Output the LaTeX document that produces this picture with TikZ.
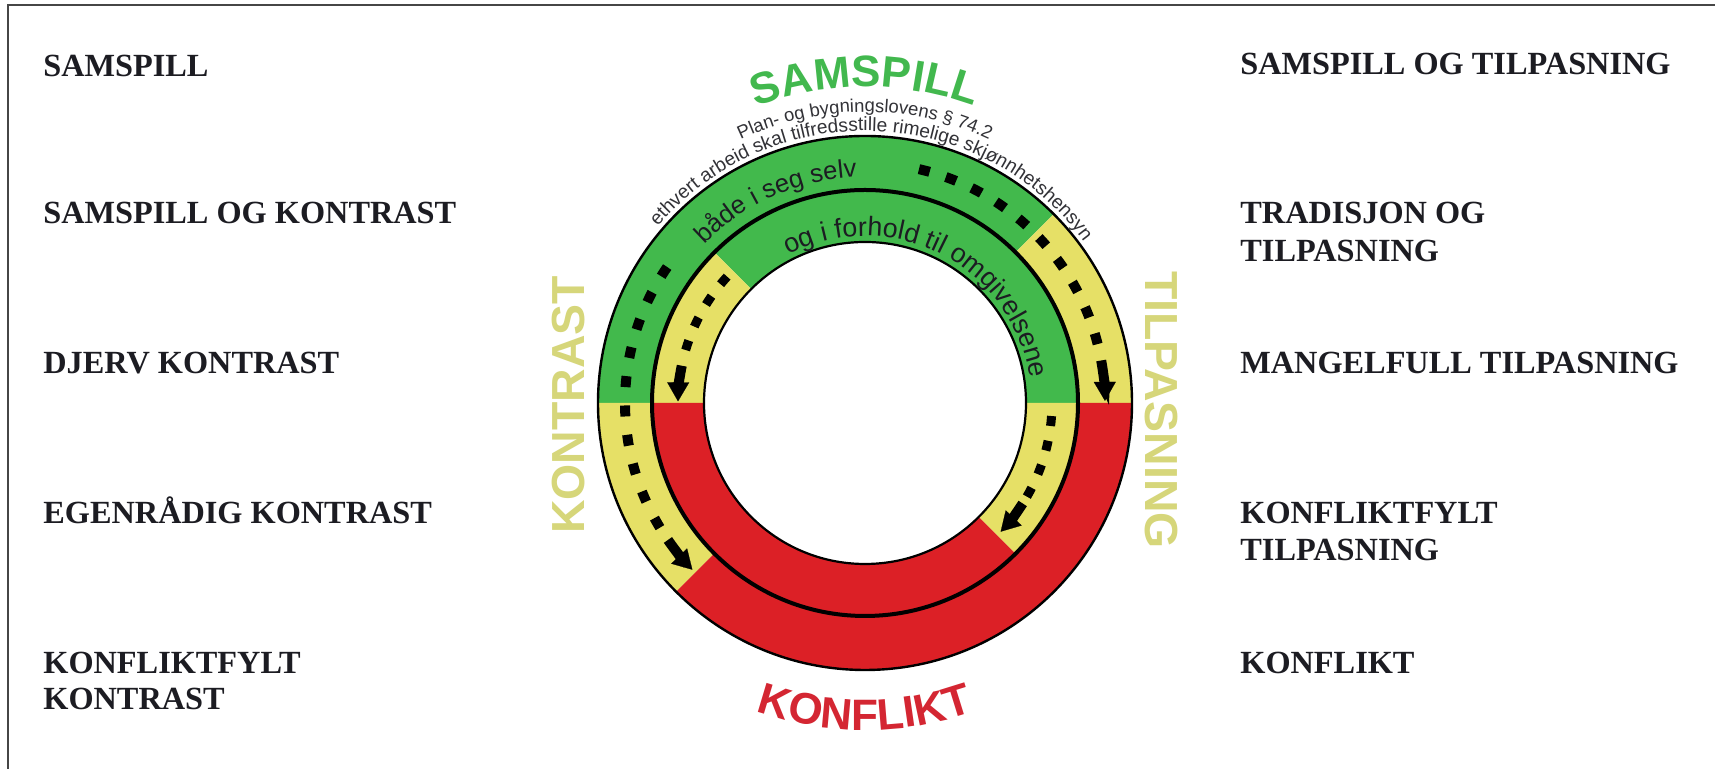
\documentclass[tikz,border=0pt]{standalone}
\usepackage{fontspec}
\setmainfont{Liberation Serif}
\setsansfont{Liberation Sans}
\usetikzlibrary{arrows.meta,decorations.text}

\definecolor{rgreen}{RGB}{66,185,76}
\definecolor{ryellow}{RGB}{230,224,102}
\definecolor{rred}{RGB}{220,32,38}
\definecolor{lblyellow}{RGB}{214,214,122}
\definecolor{lblgreen}{RGB}{66,184,78}
\definecolor{lblred}{RGB}{212,38,50}
\definecolor{txtdark}{RGB}{28,28,34}
\definecolor{smalltxt}{RGB}{50,50,55}
\definecolor{framegray}{RGB}{70,70,70}

\newcommand\ringsector[5]{\fill[#1] (#2:#4) arc[start angle=#2,end angle=#3,radius=#4] -- (#3:#5) arc[start angle=#3,end angle=#2,radius=#5] -- cycle;}

\begin{document}
\begin{tikzpicture}[x=0.5pt,y=0.5pt,
  sidelabel/.style={anchor=base west, inner sep=0pt, font=\fontsize{16.15pt}{18.5pt}\selectfont\bfseries, text=txtdark},
  biglabel/.style={inner sep=0pt, font=\fontsize{23.2pt}{23.2pt}\selectfont\sffamily\bfseries, text=lblyellow},
  outerdots/.style={line width=5pt, dash pattern=on 5.5pt off 8.5pt, black},
  innerdots/.style={line width=4.5pt, dash pattern=on 5pt off 7.5pt, black},
  arrowpart/.style={line width=5pt, black, -{Triangle[width=11pt,length=9.5pt,line width=0.1pt]}},
  ]
\useasboundingbox (0,0) rectangle (1715,769);
\fill[white] (0,0) rectangle (1715,769);
\draw[framegray, line width=0.8pt] (8,-5) -- (8,764) -- (1720,764);

% left labels
\node[sidelabel] (l1) at (43,692) {SAMSPILL};
\node[sidelabel] (l2) at (43,545) {SAMSPILL OG KONTRAST};
\node[sidelabel] (l3) at (43,395) {DJERV KONTRAST};
\node[sidelabel] (l4) at (43,245) {EGENRÅDIG KONTRAST};
\node[sidelabel] (l5a) at (43,95) {KONFLIKTFYLT};
\node[sidelabel] (l5b) at (43,59) {KONTRAST};

% right labels
\node[sidelabel] (r1) at (1240,694) {SAMSPILL OG TILPASNING};
\node[sidelabel] (r2a) at (1240,545) {TRADISJON OG};
\node[sidelabel] (r2b) at (1240,507) {TILPASNING};
\node[sidelabel] (r3) at (1240,395) {MANGELFULL TILPASNING};
\node[sidelabel] (r4a) at (1240,245) {KONFLIKTFYLT};
\node[sidelabel] (r4b) at (1240,208) {TILPASNING};
\node[sidelabel] (r5) at (1240,95) {KONFLIKT};

% side ring labels
\node[biglabel, rotate=90] (kontrast) at (569,364) {KONTRAST};
\node[biglabel, rotate=-90] (tilpasning) at (1161,359) {TILPASNING};

\begin{scope}[shift={(865,366)}]
  \coordinate (C) at (0,0);
  % outer band
  \ringsector{rgreen}{45}{180}{267}{213}
  \ringsector{ryellow}{0}{45}{267}{213}
  \ringsector{ryellow}{180}{225}{267}{213}
  \ringsector{rred}{225}{360}{267}{213}
  % inner band
  \ringsector{rgreen}{0}{135}{213}{161}
  \ringsector{ryellow}{135}{180}{213}{161}
  \ringsector{rred}{180}{315}{213}{161}
  \ringsector{ryellow}{315}{360}{213}{161}
  % outlines
  \draw[black, line width=1.2pt] (C) circle[radius=267];
  \draw[black, line width=2pt] (C) circle[radius=213];
  \draw[black, line width=1.1pt] (C) circle[radius=161];

  % dotted arrows
  \draw[outerdots] (77:240) arc[start angle=77,end angle=14.2,radius=240];
  \draw[arrowpart] (10.2:240) arc[start angle=10.2,end angle=0.5,radius=240];
  \draw[outerdots, dash pattern=on 5.5pt off 9.2pt] (145.5:240) arc[start angle=145.5,end angle=211.4,radius=240];
  \draw[arrowpart] (214.8:240) arc[start angle=214.8,end angle=224,radius=240];
  \draw[innerdots] (137.5:187) arc[start angle=137.5,end angle=163.6,radius=187];
  \draw[arrowpart] (168.5:187) arc[start angle=168.5,end angle=179.5,radius=187];
  \draw[innerdots] (-4:187) arc[start angle=-4,end angle=-30.1,radius=187];
  \draw[arrowpart] (-32.5:187) arc[start angle=-32.5,end angle=-43.5,radius=187];

  % curved texts
  \path[decorate, decoration={text along path, text align=center, text color=lblgreen,
      text={|\fontsize{22pt}{22pt}\selectfont\sffamily\bfseries|SAMSPILL}}]
    (150:316) arc[start angle=150,end angle=30,radius=316];
  \path[decorate, decoration={text along path, text align=center, text color=lblred,
      text={|\fontsize{22pt}{22pt}\selectfont\sffamily\bfseries|KONFLIKT}}]
    (210:327) arc[start angle=210,end angle=330,radius=327];
  \path[decorate, decoration={text along path, text align=center, text color=smalltxt,
      text={|\fontsize{9.2pt}{9.2pt}\selectfont\sffamily|Plan- og bygningslovens § 74.2}}]
    (160:291) arc[start angle=160,end angle=20,radius=291];
  \path[decorate, decoration={text along path, text align=center, text color=smalltxt,
      text={|\fontsize{9.6pt}{9.6pt}\selectfont\sffamily|ethvert arbeid skal tilfredsstille rimelige skjønnhetshensyn}}]
    (168:272) arc[start angle=168,end angle=8,radius=272];
  \path[decorate, decoration={text along path, text align=center, text color=txtdark,
      text={|\fontsize{12.8pt}{12.8pt}\selectfont\sffamily|både i seg selv}}]
    (173.7:226) arc[start angle=173.7,end angle=53.7,radius=226];
  \path[decorate, decoration={text along path, text align=center, text color=txtdark,
      text={|\fontsize{13.4pt}{13.4pt}\selectfont\sffamily|og i forhold til omgivelsene}}]
    (153:167) arc[start angle=153,end angle=-27,radius=167];
\end{scope}
\end{tikzpicture}
\end{document}
